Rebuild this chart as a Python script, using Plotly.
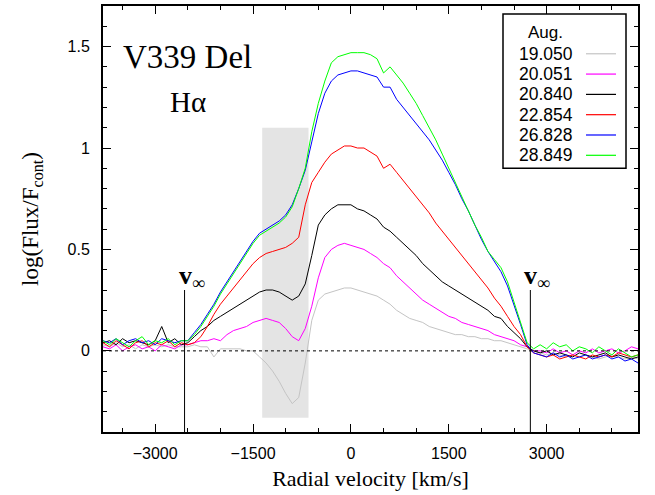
import plotly.graph_objects as go

# ---------------- data ----------------
velocity = list(range(-3800, 4401, 100))  # km/s, 83 points

cont_left = {
    "19.050": [0.03,0.02,0.04,0.02,0.03,0.01,0.03,0.02,0.03,0.02,0.03,0.02,0.02],
    "20.051": [0.02,0.01,0.03,0.00,0.02,0.03,0.01,0.02,0.00,0.03,0.02,0.01,0.03],
    "20.840": [0.04,0.05,0.03,0.06,0.04,0.05,0.04,0.03,0.05,0.12,0.04,0.06,0.03],
    "22.854": [0.04,0.02,0.05,0.03,0.01,0.04,0.05,0.02,0.04,0.03,0.05,0.02,0.04],
    "26.828": [0.05,0.04,0.06,0.03,0.05,0.06,0.04,0.05,0.03,0.06,0.05,0.04,0.05],
    "28.849": [0.05,0.03,0.06,0.04,0.02,0.05,0.07,0.03,0.05,0.04,0.06,0.03,0.05],
}

# -2500 .. 2800 (54 points)
line_core = {
    "19.050": [0.02,0.03,0.02,0.02,-0.03,0.01,0.01,0.01,0.01,0.00,0.00,-0.03,-0.06,-0.10,-0.15,-0.21,-0.26,-0.23,-0.06,0.15,
               0.25,0.28,0.29,0.30,0.31,0.31,0.30,0.29,0.28,0.27,0.25,0.23,0.20,0.18,0.16,0.15,0.14,0.12,0.11,0.10,
               0.09,0.08,0.08,0.07,0.07,0.06,0.06,0.05,0.05,0.04,0.03,0.02,0.01,0.00],
    "20.051": [0.03,0.04,0.05,0.05,0.06,0.05,0.08,0.10,0.11,0.12,0.14,0.15,0.16,0.15,0.14,0.11,0.07,0.05,0.11,0.22,
               0.36,0.46,0.50,0.52,0.53,0.52,0.51,0.50,0.48,0.46,0.43,0.41,0.37,0.34,0.31,0.28,0.25,0.23,0.21,0.19,
               0.17,0.16,0.14,0.13,0.12,0.11,0.10,0.08,0.07,0.06,0.05,0.03,0.02,0.00],
    "20.840": [0.04,0.07,0.10,0.12,0.15,0.17,0.19,0.21,0.23,0.25,0.27,0.29,0.30,0.30,0.29,0.27,0.25,0.27,0.33,0.47,
               0.62,0.67,0.70,0.72,0.72,0.72,0.70,0.69,0.67,0.65,0.61,0.59,0.56,0.53,0.50,0.47,0.43,0.40,0.37,0.34,
               0.32,0.30,0.28,0.26,0.24,0.22,0.20,0.17,0.16,0.12,0.09,0.06,0.02,0.00],
    "22.854": [0.03,0.04,0.07,0.12,0.18,0.23,0.27,0.31,0.35,0.39,0.43,0.46,0.48,0.49,0.50,0.51,0.53,0.56,0.72,0.83,
               0.88,0.93,0.97,0.99,1.01,1.01,1.00,1.00,0.98,0.96,0.90,0.92,0.88,0.84,0.80,0.76,0.72,0.68,0.63,0.59,
               0.55,0.51,0.47,0.43,0.39,0.35,0.31,0.26,0.22,0.17,0.12,0.08,0.02,-0.01],
    "26.828": [0.05,0.09,0.13,0.18,0.23,0.29,0.34,0.39,0.44,0.49,0.54,0.58,0.60,0.62,0.64,0.67,0.72,0.80,0.89,1.03,
               1.17,1.27,1.33,1.36,1.37,1.38,1.38,1.37,1.36,1.35,1.30,1.30,1.24,1.20,1.16,1.12,1.08,1.04,0.99,0.94,
               0.88,0.82,0.75,0.69,0.62,0.55,0.49,0.44,0.39,0.32,0.23,0.13,0.03,-0.01],
    "28.849": [0.05,0.08,0.12,0.17,0.22,0.28,0.33,0.38,0.43,0.48,0.53,0.57,0.59,0.61,0.63,0.66,0.71,0.80,0.90,1.08,
               1.22,1.33,1.42,1.45,1.46,1.47,1.47,1.47,1.46,1.44,1.37,1.40,1.36,1.32,1.27,1.22,1.16,1.10,1.04,0.97,
               0.90,0.83,0.76,0.69,0.62,0.56,0.49,0.45,0.41,0.34,0.24,0.14,0.04,0.01],
}

# 2900 .. 4400 (16 points)
cont_right = {
    "19.050": [-0.01,-0.02,-0.01,-0.02,-0.03,-0.02,-0.03,-0.02,-0.03,-0.04,-0.03,-0.02,-0.03,-0.04,-0.03,-0.04],
    "20.051": [0.00,-0.01,0.01,-0.01,0.00,-0.02,0.00,-0.01,0.01,-0.01,0.00,0.01,-0.01,0.00,0.02,0.01],
    "20.840": [-0.01,0.00,-0.02,-0.01,-0.02,-0.03,-0.01,-0.02,-0.03,-0.02,-0.01,-0.03,-0.02,-0.03,-0.04,-0.03],
    "22.854": [-0.02,-0.03,-0.02,-0.04,-0.03,-0.02,-0.03,-0.04,-0.02,-0.03,-0.02,-0.03,-0.01,-0.02,-0.03,-0.02],
    "26.828": [-0.02,-0.03,-0.01,-0.03,-0.02,-0.04,-0.03,-0.02,-0.04,-0.03,-0.02,-0.04,-0.03,-0.05,-0.04,-0.06],
    "28.849": [0.03,0.01,0.04,0.02,0.03,0.00,0.02,0.01,-0.01,0.02,0.00,-0.02,0.01,-0.01,-0.03,-0.02],
}

dates = ["19.050", "20.051", "20.840", "22.854", "26.828", "28.849"]
colors = ["#c4c4c4", "#ff00ff", "#000000", "#ff0000", "#0000ff", "#00ff00"]

v_inf = [-2550, 2750]
shade_x = [-1360, -650]
shade_y = [-0.33, 1.1]

# ---------------- layout helpers ----------------
L, R, T, B = 103, 638, 4, 432
W, H = 655, 495
def px(x):
    return (x - L) / (R - L)
def py(y):
    return (B - y) / (B - T)

fig = go.Figure()

for d, c in zip(dates, colors):
    yv = cont_left[d] + line_core[d] + cont_right[d]
    fig.add_trace(go.Scatter(x=velocity, y=yv, mode="lines",
                             line=dict(color=c, width=1), name=d, showlegend=False))

shapes = []
shapes.append(dict(type="rect", xref="x", yref="y", x0=shade_x[0], x1=shade_x[1],
                   y0=shade_y[0], y1=shade_y[1], fillcolor="#e4e4e4", line=dict(width=0), layer="below"))
shapes.append(dict(type="line", xref="paper", yref="y", x0=0, x1=1, y0=0, y1=0,
                   line=dict(color="black", width=1, dash="dot")))
for v in v_inf:
    shapes.append(dict(type="line", xref="x", yref="y", x0=v, x1=v, y0=-0.4, y1=0.30,
                       line=dict(color="black", width=1)))

annotations = []
for v in v_inf:
    annotations.append(dict(x=v, y=0.30, xref="x", yref="y", text="<b>v</b><sub>∞</sub>",
                            showarrow=False, xanchor="center", yanchor="bottom", xshift=7, yshift=-5,
                            font=dict(family="Liberation Serif", size=26, color="black")))

annotations.append(dict(x=px(187), y=py(55), xref="paper", yref="paper", text="V339 Del",
                        showarrow=False, xanchor="center", yanchor="middle",
                        font=dict(family="Liberation Serif", size=33, color="black")))
annotations.append(dict(x=px(188), y=py(100), xref="paper", yref="paper", text="Hα",
                        showarrow=False, xanchor="center", yanchor="middle",
                        font=dict(family="Liberation Serif", size=29, color="black")))

# manual legend
shapes.append(dict(type="rect", xref="paper", yref="paper", x0=px(503), x1=px(626),
                   y0=py(167), y1=py(12), fillcolor="white", line=dict(color="black", width=1.5)))
annotations.append(dict(x=px(545), y=py(31), xref="paper", yref="paper", text="Aug.",
                        showarrow=False, xanchor="center", yanchor="middle",
                        font=dict(family="Liberation Sans", size=17, color="black")))
for i, (d, c) in enumerate(zip(dates, colors)):
    yy = 52 + i * 20.4
    annotations.append(dict(x=px(575), y=py(yy), xref="paper", yref="paper", text=d,
                            showarrow=False, xanchor="right", yanchor="middle",
                            font=dict(family="Liberation Sans", size=17.5, color="black")))
    shapes.append(dict(type="line", xref="paper", yref="paper", x0=px(586), x1=px(616),
                       y0=py(yy), y1=py(yy), line=dict(color=c, width=1.2)))

fig.update_layout(
    width=W, height=H,
    margin=dict(l=L, r=W - R, t=T, b=H - B),
    paper_bgcolor="white", plot_bgcolor="white",
    shapes=shapes, annotations=annotations,
    showlegend=False,
)
fig.update_xaxes(
    range=[-3800, 4400], tickvals=[-3000, -1500, 0, 1500, 3000],
    ticks="inside", ticklen=8, tickwidth=1.2, tickcolor="black",
    minor=dict(dtick=500, tick0=0, ticks="inside", ticklen=4, tickwidth=1, tickcolor="black"),
    showline=True, linecolor="black", linewidth=2, mirror="ticks",
    showgrid=False, zeroline=False, ticklabelstandoff=6,
    tickfont=dict(family="Liberation Sans", size=16, color="black"),
    title=dict(text="Radial velocity [km/s]", standoff=9,
               font=dict(family="Liberation Serif", size=22, color="black")),
)
fig.update_yaxes(
    range=[-0.4, 1.7], tickvals=[0, 0.5, 1, 1.5], ticktext=["0", "0.5", "1", "1.5"],
    ticks="inside", ticklen=8, tickwidth=1.2, tickcolor="black",
    minor=dict(dtick=0.1, tick0=0, ticks="inside", ticklen=4, tickwidth=1, tickcolor="black"),
    showline=True, linecolor="black", linewidth=2, mirror="ticks",
    showgrid=False, zeroline=False, ticklabelstandoff=8,
    tickfont=dict(family="Liberation Sans", size=16, color="black"),
    title=dict(text="log(Flux/F<sub>cont</sub>)", standoff=22,
               font=dict(family="Liberation Serif", size=23, color="black")),
)

fig.write_html("out.html")
